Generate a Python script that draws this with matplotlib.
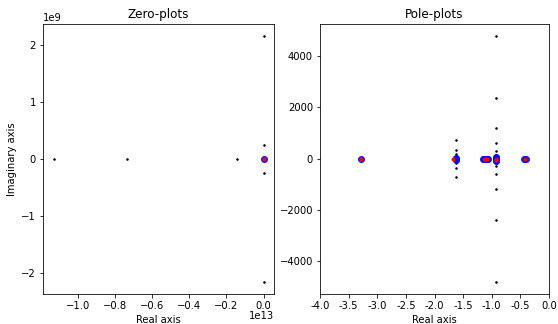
import numpy as np
import matplotlib
matplotlib.use("Agg")
import matplotlib.pyplot as plt
from matplotlib.ticker import FuncFormatter, MultipleLocator, FormatStrFormatter

# ---- Zero plot data ----
zero_black_re = [-1.13e13, -0.735e13, -0.145e13, 0.0, 0.0, 0.0, 0.0, 0.0]
zero_black_im = [0.0, 0.0, 0.0, 2.15e9, -2.15e9, 0.245e9, -0.245e9, 0.0]
zero_blue_re = [0.0]
zero_blue_im = [0.0]
zero_red_re = [0.0]
zero_red_im = [0.0]

# ---- Pole plot data ----
pole_black_re = ([-0.93] * 14) + ([-1.63] * 8)
pole_black_im = [4770, 2385, 1192, 596, 298, 149, 75,
                 -75, -149, -298, -596, -1192, -2385, -4790,
                 720, 360, 180, 90, -90, -180, -360, -720]
pole_blue_re = [-3.28, -1.62, -1.62, -1.15, -1.13, -1.11, -1.09, -1.07,
                -0.93, -0.93, -0.93, -0.93, -0.43, -0.41]
pole_blue_im = [0, 30, -30, 0, 0, 0, 0, 0, 80, 30, -30, -80, 0, 0]
pole_red_re = [-3.28, -1.68, -1.14, -1.12, -1.10, -1.08, -0.93, -0.93, -0.42]
pole_red_im = [0, 0, 0, 0, 0, 0, 0, -50, 0]

x_scale = 1e13

fig = plt.figure(figsize=(558 / 72, 324 / 72), dpi=72)
ax1 = fig.add_axes([43 / 558, 30 / 324, 231 / 558, 270 / 324])
ax2 = fig.add_axes([320 / 558, 30 / 324, 229 / 558, 270 / 324])

ax1.plot(zero_black_re, zero_black_im, 'k.', markersize=3)
ax1.plot(zero_blue_re, zero_blue_im, 'bo', markersize=6, alpha=0.85)
ax1.plot(zero_red_re, zero_red_im, 'ro', markersize=3)
ax1.xaxis.set_major_locator(MultipleLocator(0.2 * x_scale))


def fmt_x(v, pos):
    s = '%.1f' % (v / x_scale)
    if s == '-0.0':
        s = '0.0'
    return s.replace('-', '\u2212')


ax1.xaxis.set_major_formatter(FuncFormatter(fmt_x))
ax1.annotate('1e13', xy=(1, 0), xycoords='axes fraction', xytext=(0, -17),
             textcoords='offset points', ha='right', va='top', fontsize=10)
ax1.set_title('Zero-plots')
ax1.set_xlabel('Real axis')
ax1.set_ylabel('Imaginary axis')

ax2.plot(pole_black_re, pole_black_im, 'k.', markersize=3)
ax2.plot(pole_blue_re, pole_blue_im, 'bo', markersize=6, alpha=0.85)
ax2.plot(pole_red_re, pole_red_im, 'ro', markersize=3)
ax2.set_xlim(-4, 0)
ax2.xaxis.set_major_locator(MultipleLocator(0.5))
ax2.xaxis.set_major_formatter(FormatStrFormatter('%.1f'))
ax2.set_title('Pole-plots')
ax2.set_xlabel('Real axis')

fig.savefig('out.png', dpi=72)
